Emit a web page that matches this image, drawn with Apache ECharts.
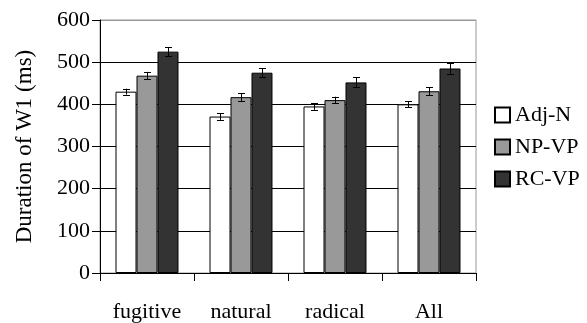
<!DOCTYPE html>
<html>
<head>
<meta charset="utf-8">
<script src="https://cdn.jsdelivr.net/npm/echarts@6/dist/echarts.min.js"></script>
<style>
html,body{margin:0;padding:0;background:#fff;}
#chart{width:587px;height:323px;}
</style>
</head>
<body>
<div id="chart"></div>
<script>
var categories = ['fugitive', 'natural', 'radical', 'All'];
var seriesNames = ['Adj-N', 'NP-VP', 'RC-VP'];
var adjN = [430, 371, 395, 400];
var npVP = [468, 417, 410, 431];
var rcVP = [525, 475, 452, 485];
var adjNErr = [7, 8, 8, 7];
var npVPErr = [9, 9, 8, 9];
var rcVPErr = [11, 11, 12, 12];
var yTicks = [0, 100, 200, 300, 400, 500, 600];

var colors = ['#ffffff', '#999999', '#333333'];
var values = [adjN, npVP, rcVP];
var errs = [adjNErr, npVPErr, rcVPErr];
var font = 'Liberation Serif';
var catGap = 0.33;

var chart = echarts.init(document.getElementById('chart'));

var series = [];
values.forEach(function (vals, si) {
  series.push({
    name: seriesNames[si],
    type: 'bar',
    data: vals,
    barGap: '0%',
    barCategoryGap: (catGap * 100) + '%',
    itemStyle: { color: colors[si], borderColor: '#000', borderWidth: 1 },
    z: 3
  });
});
values.forEach(function (vals, si) {
  series.push({
    type: 'custom',
    silent: true,
    z: 5,
    data: vals.map(function (v, i) { return [i, v - errs[si][i], v + errs[si][i]]; }),
    renderItem: function (params, api) {
      var band = api.size([1, 0])[0];
      var w = band * (1 - catGap) / 3;
      var off = (si - 1) * w;
      var lo = api.coord([api.value(0), api.value(1)]);
      var hi = api.coord([api.value(0), api.value(2)]);
      var x = Math.round(lo[0] + off) + 0.5;
      var cap = 3.5;
      var st = { stroke: '#000', lineWidth: 1 };
      return {
        type: 'group',
        children: [
          { type: 'line', shape: { x1: x, y1: lo[1], x2: x, y2: hi[1] }, style: st },
          { type: 'line', shape: { x1: x - cap, y1: Math.round(lo[1]) + 0.5, x2: x + cap, y2: Math.round(lo[1]) + 0.5 }, style: st },
          { type: 'line', shape: { x1: x - cap, y1: Math.round(hi[1]) + 0.5, x2: x + cap, y2: Math.round(hi[1]) + 0.5 }, style: st }
        ]
      };
    }
  });
});

chart.setOption({
  animation: false,
  backgroundColor: '#fff',
  textStyle: { fontFamily: font, color: '#000' },
  grid: { left: 100, right: 111, top: 20, bottom: 50, show: true, borderColor: '#999', borderWidth: 1, backgroundColor: 'transparent' },
  legend: {
    orient: 'vertical',
    left: 489,
    top: 99,
    itemWidth: 15,
    itemHeight: 15,
    itemGap: 10,
    icon: 'rect',
    data: seriesNames,
    textStyle: { fontFamily: font, fontSize: 22, color: '#000' }
  },
  xAxis: {
    type: 'category',
    data: categories,
    axisLine: { lineStyle: { color: '#000', width: 1 } },
    axisTick: { show: true, length: 8, inside: false, lineStyle: { color: '#000' } },
    axisLabel: { fontFamily: font, fontSize: 22, color: '#000', margin: 28 }
  },
  yAxis: {
    type: 'value',
    min: yTicks[0],
    max: yTicks[yTicks.length - 1],
    interval: 100,
    name: 'Duration of W1 (ms)',
    nameLocation: 'middle',
    nameGap: 64,
    nameTextStyle: { fontFamily: font, fontSize: 23, color: '#000' },
    axisLine: { show: true, lineStyle: { color: '#000', width: 1 } },
    axisTick: { show: true, length: 8, lineStyle: { color: '#000' } },
    axisLabel: { fontFamily: font, fontSize: 22, color: '#000', margin: 10 },
    splitLine: { show: true, lineStyle: { color: ['#000', '#000', '#000', '#000', '#000', '#000', '#999'], width: 1 } }
  },
  series: series
});
</script>
</body>
</html>
